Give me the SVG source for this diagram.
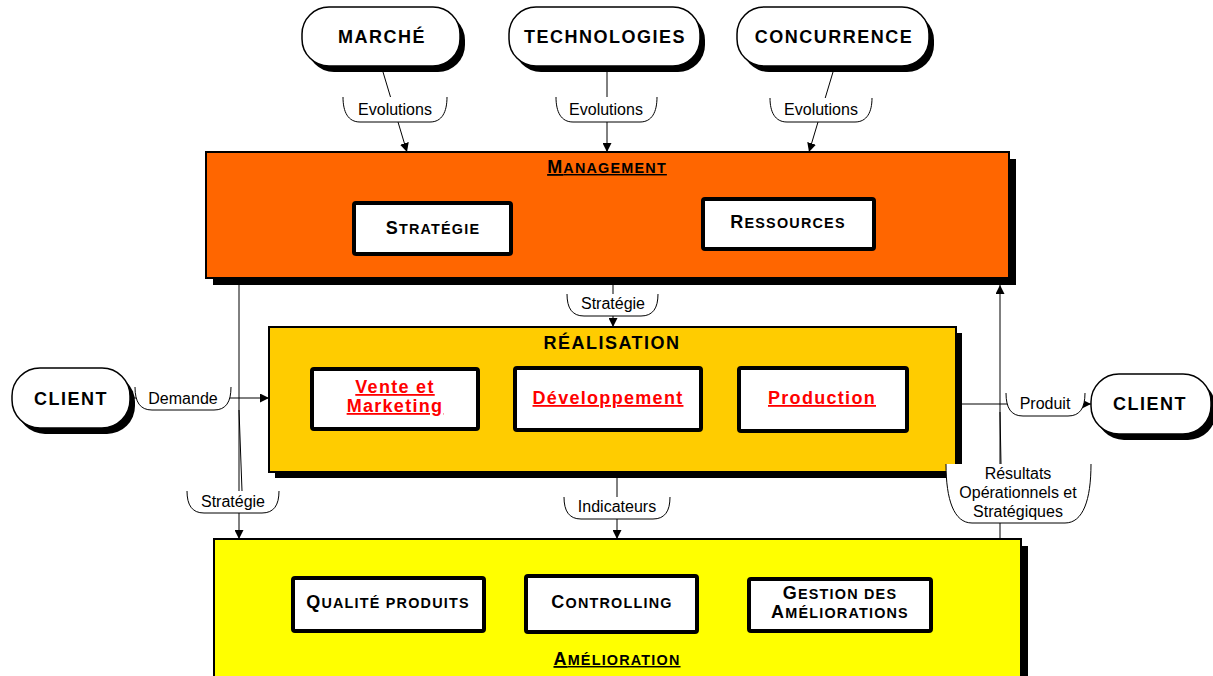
<svg xmlns="http://www.w3.org/2000/svg" width="1213" height="676" viewBox="0 0 1213 676">
<defs>
<marker id="ah" viewBox="0 0 10 10" refX="10" refY="5" markerWidth="9" markerHeight="9" markerUnits="userSpaceOnUse" orient="auto"><path d="M0,0 L10,5 L0,10 z" fill="#000"/></marker>
<style>
.pill{fill:#fff;stroke:#000;stroke-width:1.5}
.shd{fill:#000}
.bt{font-family:"Liberation Sans",Arial,Helvetica,sans-serif;font-weight:bold;fill:#000;text-anchor:middle}
.nt{font-size:18px;letter-spacing:1.5px}
.sc{letter-spacing:1.2px}
.big{font-size:18px}
.sm{font-size:14.4px}
.red{fill:#f00;font-size:18px;letter-spacing:1.3px;text-decoration:underline}
.ul{text-decoration:underline}
.inner{fill:#fff;stroke:#000;stroke-width:4}
.frame{stroke:#000;stroke-width:2}
.lbl{font-family:"Liberation Sans",Arial,Helvetica,sans-serif;font-size:16px;fill:#000;text-anchor:middle}
.conn{stroke:#000;stroke-width:1;fill:none}
.brk{fill:#fff;stroke:#000;stroke-width:1}
</style>
</defs>
<rect width="1213" height="676" fill="#fff"/>

<g id="management">
<rect class="shd" x="213" y="159" width="803" height="126"/>
<rect class="frame" x="206" y="152" width="803" height="126" fill="#FF6600"/>
<text class="bt sc ul" x="607" y="173"><tspan class="big">M</tspan><tspan class="sm">ANAGEMENT</tspan></text>
<g id="strategie">
<rect class="inner" x="354" y="203" width="157" height="51" rx="2"/>
<text class="bt sc" x="433" y="234"><tspan class="big">S</tspan><tspan class="sm">TRATÉGIE</tspan></text>
</g>
<g id="ressources">
<rect class="inner" x="703" y="199" width="171" height="50" rx="2"/>
<text class="bt sc" x="788" y="228"><tspan class="big">R</tspan><tspan class="sm">ESSOURCES</tspan></text>
</g>
</g>

<g id="realisation">
<rect class="shd" x="275" y="333" width="687" height="145"/>
<rect class="frame" x="269" y="327" width="687" height="145" fill="#FFCC00"/>
<text class="bt nt" x="612" y="349" letter-spacing="1.3">RÉALISATION</text>
<g id="vente">
<rect class="inner" x="312" y="369" width="166" height="60" rx="2"/>
<text class="bt red" x="395" y="393">Vente et</text>
<text class="bt red" x="395" y="412">Marketing</text>
</g>
<g id="developpement">
<rect class="inner" x="515" y="368" width="186" height="62" rx="2"/>
<text class="bt red" x="608" y="404">Développement</text>
</g>
<g id="production">
<rect class="inner" x="739" y="368" width="168" height="63" rx="2"/>
<text class="bt red" x="822" y="404">Production</text>
</g>
</g>

<g id="amelioration">
<rect class="shd" x="221" y="546" width="807" height="150"/>
<rect class="frame" x="214" y="539" width="807" height="150" fill="#FFFF00"/>
<text class="bt sc ul" x="617" y="665"><tspan class="big">A</tspan><tspan class="sm">MÉLIORATION</tspan></text>
<g id="qualite">
<rect class="inner" x="293" y="578" width="191" height="53" rx="2"/>
<text class="bt sc" x="388" y="608"><tspan class="big">Q</tspan><tspan class="sm">UALITÉ PRODUITS</tspan></text>
</g>
<g id="controlling">
<rect class="inner" x="526" y="576" width="171" height="56" rx="2"/>
<text class="bt sc" x="612" y="608"><tspan class="big">C</tspan><tspan class="sm">ONTROLLING</tspan></text>
</g>
<g id="gestion">
<rect class="inner" x="749" y="579" width="182" height="52" rx="2"/>
<text class="bt sc" x="840" y="599"><tspan class="big">G</tspan><tspan class="sm">ESTION DES</tspan></text>
<text class="bt sc" x="840" y="618"><tspan class="big">A</tspan><tspan class="sm">MÉLIORATIONS</tspan></text>
</g>
</g>

<g id="marche">
<rect class="shd" x="307" y="13" width="158" height="59" rx="27"/>
<rect class="pill" x="302" y="7" width="158" height="59" rx="27"/>
<text class="bt nt" x="382" y="43">MARCHÉ</text>
</g>
<g id="technologies">
<rect class="shd" x="514" y="13" width="191" height="59" rx="27"/>
<rect class="pill" x="509" y="7" width="191" height="59" rx="27"/>
<text class="bt nt" x="605" y="43">TECHNOLOGIES</text>
</g>
<g id="concurrence">
<rect class="shd" x="742" y="13" width="192" height="59" rx="27"/>
<rect class="pill" x="737" y="7" width="192" height="59" rx="27"/>
<text class="bt nt" x="834" y="43">CONCURRENCE</text>
</g>
<g id="client-left">
<rect class="shd" x="17" y="374" width="118" height="60" rx="28"/>
<rect class="pill" x="12" y="368" width="118" height="60" rx="28"/>
<text class="bt nt" x="71" y="405">CLIENT</text>
</g>
<g id="client-right">
<rect class="shd" x="1096" y="380" width="120" height="60" rx="28"/>
<rect class="pill" x="1091" y="374" width="120" height="60" rx="28"/>
<text class="bt nt" x="1150" y="410">CLIENT</text>
</g>

<g id="connectors">
<!-- Evolutions: Marché -->
<line class="conn" x1="383" y1="72" x2="407" y2="152" marker-end="url(#ah)"/>
<path class="brk" d="M343,97 C343,112 348,122 360,122 H430 C442,122 447,112 447,97"/>
<text class="lbl" x="395" y="115">Evolutions</text>
<!-- Evolutions: Technologies -->
<line class="conn" x1="607" y1="72" x2="607" y2="152" marker-end="url(#ah)"/>
<path class="brk" d="M556,97 C556,112 561,122 573,122 H640 C652,122 657,112 657,97"/>
<text class="lbl" x="606" y="115">Evolutions</text>
<!-- Evolutions: Concurrence -->
<line class="conn" x1="833" y1="72" x2="809" y2="152" marker-end="url(#ah)"/>
<path class="brk" d="M770,98 C770,112 775,122 787,122 H855 C867,122 872,112 872,98"/>
<text class="lbl" x="821" y="115">Evolutions</text>
<!-- Stratégie: Management -> Réalisation -->
<line class="conn" x1="613" y1="285" x2="613" y2="327" marker-end="url(#ah)"/>
<path class="brk" d="M567,294 C567,308 572,316 584,316 H641 C653,316 658,308 658,294"/>
<text class="lbl" x="613" y="309">Stratégie</text>
<!-- Stratégie: Management -> Amélioration -->
<line class="conn" x1="239" y1="285" x2="239" y2="539" marker-end="url(#ah)"/>
<line class="conn" x1="239" y1="410" x2="242" y2="491"/>
<path class="brk" d="M187,491 C187,505 192,513 204,513 H262 C274,513 279,505 279,491"/>
<text class="lbl" x="233" y="507">Stratégie</text>
<!-- Demande -->
<line class="conn" x1="130" y1="398" x2="269" y2="398" marker-end="url(#ah)"/>
<path class="brk" d="M135,387 C135,402 140,410 152,410 H214 C226,410 231,402 231,387"/>
<text class="lbl" x="183" y="404">Demande</text>
<!-- Produit -->
<line class="conn" x1="956" y1="404" x2="1091" y2="404" marker-end="url(#ah)"/>
<path class="brk" d="M1006,393 C1006,408 1011,416 1023,416 H1068 C1080,416 1085,408 1085,393"/>
<text class="lbl" x="1045" y="409">Produit</text>
<!-- Indicateurs -->
<line class="conn" x1="617" y1="477" x2="617" y2="539" marker-end="url(#ah)"/>
<path class="brk" d="M564,497 C564,511 569,519 581,519 H653 C665,519 670,511 670,497"/>
<text class="lbl" x="617" y="512">Indicateurs</text>
<!-- Résultats -->
<line class="conn" x1="1000" y1="539" x2="1000" y2="285" marker-end="url(#ah)"/>
<line class="conn" x1="1000" y1="412" x2="1001" y2="464"/>
<path class="brk" d="M946,464 C946,500 954,523 972,523 H1065 C1083,523 1091,500 1091,464"/>
<text class="lbl" x="1018" y="479">Résultats</text>
<text class="lbl" x="1018" y="498">Opérationnels et</text>
<text class="lbl" x="1018" y="517">Stratégiques</text>
</g>
</svg>
